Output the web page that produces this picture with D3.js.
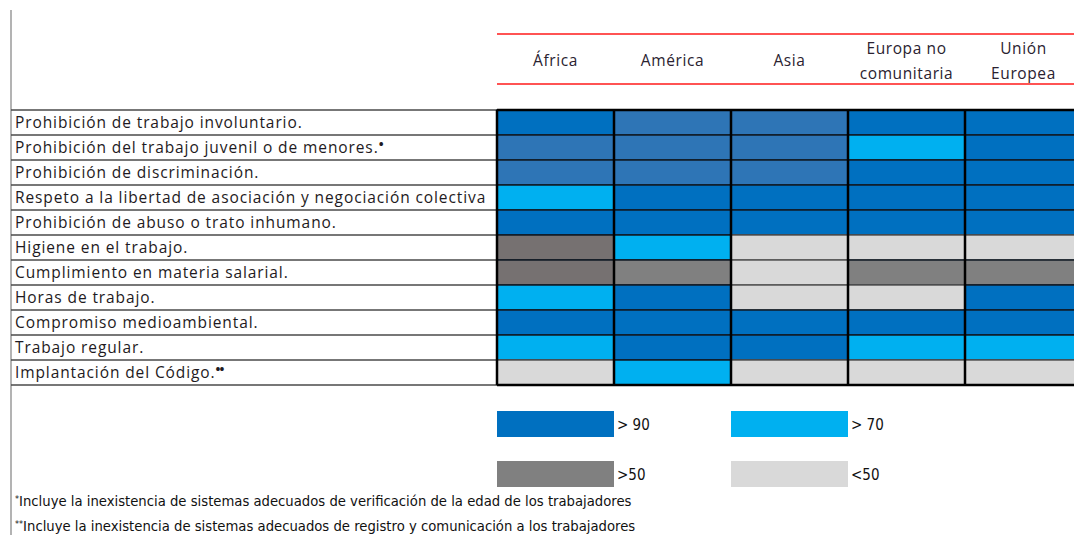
<!DOCTYPE html>
<html>
<head>
<meta charset="utf-8">
<script src="https://cdn.jsdelivr.net/npm/d3@7"></script>
<style>
  html, body { margin: 0; padding: 0; background: #fff; overflow: hidden; }
  svg { display: block; }
</style>
</head>
<body>
<svg id="chart" width="1074" height="535"></svg>
<script>
// regiones (columnas) y criterios (filas)
const regions = [["África"], ["América"], ["Asia"], ["Europa no", "comunitaria"], ["Unión", "Europea"]];
const criteria = [
  "Prohibición de trabajo involuntario.",
  "Prohibición del trabajo juvenil o de menores.*",
  "Prohibición de discriminación.",
  "Respeto a la libertad de asociación y negociación colectiva",
  "Prohibición de abuso o trato inhumano.",
  "Higiene en el trabajo.",
  "Cumplimiento en materia salarial.",
  "Horas de trabajo.",
  "Compromiso medioambiental.",
  "Trabajo regular.",
  "Implantación del Código.**"
];

// nivel de cada celda, fila a fila (África, América, Asia, Europa no com., UE)
// b0/b1 = >90 (dos tonos), c = >70, d/e = >50 (dos grises), f = <50
const levels = [
  ["b0", "b1", "b1", "b0", "b0"],
  ["b1", "b1", "b1", "c",  "b0"],
  ["b1", "b1", "b1", "b0", "b0"],
  ["c",  "b0", "b0", "b0", "b0"],
  ["b0", "b0", "b0", "b0", "b0"],
  ["d",  "c",  "f",  "f",  "f"],
  ["d",  "e",  "f",  "e",  "e"],
  ["c",  "b0", "f",  "f",  "b0"],
  ["b0", "b0", "b0", "b0", "b0"],
  ["c",  "b0", "b0", "c",  "c"],
  ["f",  "c",  "f",  "f",  "f"]
];

const levelColors = { b0: "#0070C0", b1: "#2E75B6", c: "#00B0F0", d: "#767171", e: "#808080", f: "#D9D9D9" };

const legendLabels = ["> 90", "> 70", ">50", "<50"];
const legendKeys = ["b0", "c", "e", "f"];

const footnotes = [
  ["*", "Incluye la inexistencia de sistemas adecuados de verificación de la edad de los trabajadores"],
  ["**", "Incluye la inexistencia de sistemas adecuados de registro y comunicación a los trabajadores"]
];

const svg = d3.select("#chart");
const FONT = "'Open Sans', 'Noto Sans', sans-serif";
const NARROW = "'Liberation Sans Narrow', 'DejaVu Sans Condensed', 'Liberation Sans', sans-serif";

const left = 11, labelX = 15;
const x = d3.scaleBand().domain(d3.range(regions.length)).range([497, 1082]);
const y = d3.scaleBand().domain(d3.range(criteria.length)).range([110, 385]);

// línea vertical izquierda
svg.append("line")
  .attr("x1", left).attr("x2", left).attr("y1", 10).attr("y2", 535)
  .attr("stroke", "#9a9a9a").attr("stroke-width", 1.5);

// cabecera: líneas rojas y nombres de región
[34, 84].forEach((yy) => {
  svg.append("line")
    .attr("x1", x.range()[0]).attr("x2", 1074).attr("y1", yy).attr("y2", yy)
    .attr("stroke", "#ff1a1a").attr("stroke-width", 1.5);
});

const head = svg.append("g").selectAll("text")
  .data(regions)
  .join("text")
    .attr("text-anchor", "middle")
    .attr("font-family", FONT)
    .attr("font-size", "15.5px")
    .attr("letter-spacing", "0.6px")
    .attr("fill", "#2a2230");
head.each(function (d, i) {
  const t = d3.select(this);
  const cx = x(i) + x.bandwidth() / 2;
  if (d.length === 1) {
    t.append("tspan").attr("x", cx).attr("y", 66).text(d[0]);
  } else {
    t.append("tspan").attr("x", cx).attr("y", 54).text(d[0]);
    t.append("tspan").attr("x", cx).attr("y", 79).text(d[1]);
  }
});

// filas de etiquetas
const rowsG = svg.append("g");
rowsG.selectAll("line")
  .data(d3.range(criteria.length + 1))
  .join("line")
    .attr("x1", left).attr("x2", x.range()[0])
    .attr("y1", (i) => i < criteria.length ? y(i) : y.range()[1])
    .attr("y2", (i) => i < criteria.length ? y(i) : y.range()[1])
    .attr("stroke", "#4a4a4a").attr("stroke-width", 1.5);

rowsG.selectAll("text")
  .data(criteria)
  .join("text")
    .attr("x", labelX)
    .attr("y", (d, i) => y(i) + y.bandwidth() / 2 + 5.5)
    .attr("font-family", FONT)
    .attr("font-size", "15.5px")
    .attr("letter-spacing", "0.9px")
    .attr("fill", "#1e1a22")
    .each(function (d) {
      const t = d3.select(this);
      const m = d.match(/^(.*?)(\**)$/);
      t.append("tspan").text(m[1]);
      if (m[2]) {
        t.append("tspan").attr("font-size", "13px").attr("font-weight", "bold")
          .attr("letter-spacing", "-1px").attr("dy", "-4").text(m[2].replace(/\*/g, "•"));
      }
    });

// celdas
const cells = [];
levels.forEach((row, r) => row.forEach((k, c) => cells.push({ r, c, k })));

svg.append("g").selectAll("rect")
  .data(cells)
  .join("rect")
    .attr("x", (d) => x(d.c))
    .attr("y", (d) => y(d.r))
    .attr("width", x.bandwidth())
    .attr("height", y.bandwidth())
    .attr("fill", (d) => levelColors[d.k])
    .attr("stroke", (d) => d.k === "f" ? "#555" : "#111a24")
    .attr("stroke-width", 1.5);

// bordes verticales negros entre columnas
svg.append("g").selectAll("line")
  .data(d3.range(regions.length + 1))
  .join("line")
    .attr("x1", (i) => x.range()[0] + i * x.bandwidth())
    .attr("x2", (i) => x.range()[0] + i * x.bandwidth())
    .attr("y1", y.range()[0]).attr("y2", y.range()[1])
    .attr("stroke", "#000").attr("stroke-width", 2.5);
[y.range()[0], y.range()[1]].forEach((yy) => {
  svg.append("line")
    .attr("x1", x.range()[0]).attr("x2", 1074).attr("y1", yy).attr("y2", yy)
    .attr("stroke", "#000").attr("stroke-width", 2.5);
});

// leyenda
const legG = svg.append("g");
const legPos = legendKeys.map((k, i) => ({ k, label: legendLabels[i], col: (i % 2) * 2, row: Math.floor(i / 2) }));
legG.selectAll("rect")
  .data(legPos)
  .join("rect")
    .attr("x", (d) => x(d.col))
    .attr("y", (d) => 411 + d.row * 50)
    .attr("width", x.bandwidth())
    .attr("height", 26)
    .attr("fill", (d) => levelColors[d.k]);
legG.selectAll("text")
  .data(legPos)
  .join("text")
    .attr("x", (d) => x(d.col) + x.bandwidth() + 3)
    .attr("y", (d) => 411 + d.row * 50 + 19)
    .attr("font-family", NARROW)
    .attr("font-size", "15px")
    .attr("fill", "#111")
    .text((d) => d.label);

// notas al pie
const fnG = svg.append("g");
fnG.selectAll("text")
  .data(footnotes)
  .join("text")
    .attr("x", 15)
    .attr("y", (d, i) => 506 + i * 25)
    .attr("font-family", NARROW)
    .attr("font-size", "14.7px")
    .attr("fill", "#111")
    .each(function (d) {
      const t = d3.select(this);
      t.append("tspan").attr("font-size", "9px").attr("dy", "-4").text(d[0]);
      t.append("tspan").attr("dy", "4").text(d[1]);
    });
</script>
</body>
</html>
